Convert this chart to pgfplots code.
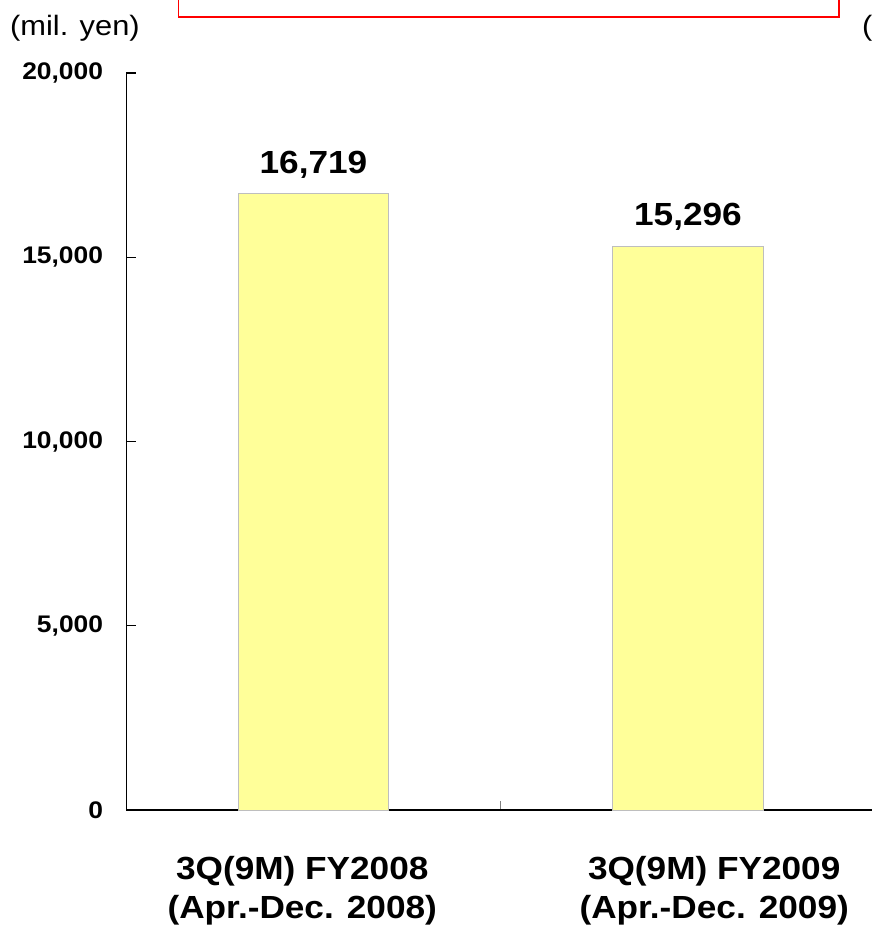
\documentclass[border=0pt]{standalone}
\usepackage{fontspec}
\setmainfont{Liberation Sans}[FakeStretch=1.1]
\usepackage{pgfplots}
\pgfplotsset{compat=1.18}
\definecolor{barfill}{RGB}{255,255,153}
\definecolor{baredge}{RGB}{190,190,190}
\begin{document}
\begin{tikzpicture}[x=1pt,y=1pt]
\useasboundingbox (-126.25,-123) rectangle (744.75,810);
\begin{axis}[
  at={(0,0)}, anchor=south west,
  scale only axis, width=749pt, height=737pt,
  xmin=-0.5, xmax=1.5, ymin=0, ymax=20000,
  enlargelimits=false,
  axis x line*=bottom, axis y line*=left,
  axis line style={line width=1.2pt, black},
  ytick align=inside,
  xtick align=outside,
  major tick length=9.5pt,
  tick style={line width=1.2pt, black},
  xtick={0.5}, xticklabels={},
  x tick style={line width=1pt, gray, yshift=9.5pt},
  extra x ticks={-0.03,1.07},
  extra x tick labels={{3Q(9M) FY2008\\(Apr.-Dec. 2008)},{3Q(9M) FY2009\\(Apr.-Dec. 2009)}},
  extra x tick style={major tick length=0pt},
  xticklabel style={align=center, inner sep=0pt, anchor=north, yshift=-46pt,
    font=\fontsize{32}{39}\selectfont\bfseries},
  ytick={0,5000,10000,15000,20000},
  scaled y ticks=false,
  yticklabel style={inner sep=0pt, anchor=east, xshift=-23pt,
    font=\fontsize{24}{28}\selectfont\bfseries,
    /pgf/number format/.cd, fixed, 1000 sep={,}, assume math mode=true},
  ybar, bar width=0.403,
  nodes near coords,
  nodes near coords style={font=\fontsize{32}{36}\selectfont\bfseries,
    anchor=south, inner sep=0pt, yshift=15pt,
    /pgf/number format/.cd, fixed, 1000 sep={,}, assume math mode=true},
]
\addplot[fill=barfill, draw=baredge, line width=1pt] coordinates {(0,16719) (1,15296)};
\end{axis}
\begin{scope}[shift={(-126.25,810)}, y=-1pt]
  \draw[red, line width=1.6pt] (178.5,-20) rectangle (839,17);
  \node[anchor=west, inner sep=0pt, font=\fontsize{28}{32}\selectfont] at (10,28) {(mil. yen)};
  \node[anchor=west, inner sep=0pt, font=\fontsize{28}{32}\selectfont] at (862,28) {(mil. yen)};
\end{scope}
\end{tikzpicture}
\end{document}
